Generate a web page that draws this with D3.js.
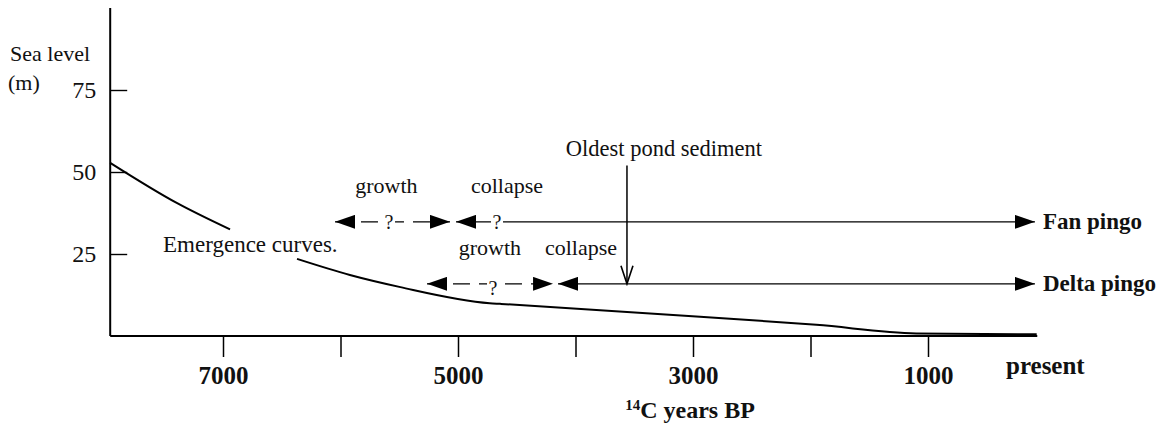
<!DOCTYPE html>
<html>
<head>
<meta charset="utf-8">
<script src="https://cdn.jsdelivr.net/npm/d3@7"></script>
<style>
  body { margin: 0; background: #fff; }
  svg text { font-family: "Liberation Serif", "Times New Roman", serif; fill: #111; }
</style>
</head>
<body>
<div id="chart"></div>
<script>
// emergence curve (years BP, metres); null = break where the label sits
var curveYears  = [7960, 7390, 6940, 6660, 6370, 5920, 5490, 4730, 4640, 2940, 1950, 1100, 75];
var curveLevels = [52.8, 40.5, 32.5, null, 23.5, 18.6, 14.9, 10.0, 9.8, 5.9, 3.4, 0.8, 0.5];

var yTicks = [25, 50, 75];
var xTicks = [7000, 6000, 5000, 4000, 3000, 2000, 1000];
var xLabelled = [7000, 5000, 3000, 1000];

// pingo rows
var rowNames     = ['Fan pingo', 'Delta pingo'];
var rowLevels    = [34.8, 15.9];
var growthStart  = [6047, 5264];
var growthEnd    = [5068, 4191];
var collapseFrom = [5017, 4149];
var collapseTo   = [90, 90];
var growthLabelAt   = [5609, 4728];
var collapseLabelAt = [4583, 3953];
var growthQAt    = [5587, 4702];
var collapseQAt  = [4668, null];

var pondYear = 3562, pondTop = 52;

var width = 1156, height = 426;

var svg = d3.select('#chart').append('svg')
    .attr('width', width)
    .attr('height', height);

var x = d3.scaleLinear().domain([8000, 0]).range([105.5, 1045.5]);
var y = d3.scaleLinear().domain([0, 100]).range([336, 8]);

var x0 = x(7960), x1 = x(70);

//markers
var defs = svg.append('defs');
defs.append('marker')
    .attr('id', 'head')
    .attr('viewBox', '-20 -7 20 14')
    .attr('refX', 0).attr('refY', 0)
    .attr('markerUnits', 'userSpaceOnUse')
    .attr('markerWidth', 20).attr('markerHeight', 14)
    .attr('orient', 'auto-start-reverse')
  .append('path')
    .attr('d', 'M-20,-7 L0,0 L-20,7 Z')
    .attr('fill', '#000');
defs.append('marker')
    .attr('id', 'vhead')
    .attr('viewBox', '-20 -8 22 16')
    .attr('refX', 0).attr('refY', 0)
    .attr('markerUnits', 'userSpaceOnUse')
    .attr('markerWidth', 22).attr('markerHeight', 16)
    .attr('orient', 'auto')
  .append('path')
    .attr('d', 'M-18,-6 L0,0 L-18,6')
    .attr('fill', 'none')
    .attr('stroke', '#000')
    .attr('stroke-width', 1.6);

//AXES
var yAxis = d3.axisLeft(y)
    .tickValues(yTicks)
    .tickSize(-17)
    .tickPadding(14)
    .tickSizeOuter(0);

var gy = svg.append('g')
    .attr('transform', 'translate(' + x0 + ',0)')
    .call(yAxis);
gy.select('.domain').remove();
gy.selectAll('line').attr('stroke', '#000').attr('stroke-width', 1.4);
gy.selectAll('text')
    .attr('font-size', 24)
    .attr('font-family', '"Liberation Serif", serif')
    .attr('fill', '#111');

svg.append('line')
    .attr('x1', x0).attr('x2', x0)
    .attr('y1', y(100)).attr('y2', y(0))
    .attr('stroke', '#000').attr('stroke-width', 2);

var xAxis = d3.axisBottom(x)
    .tickValues(xTicks)
    .tickSize(21)
    .tickPadding(9)
    .tickFormat(function (d) { return xLabelled.indexOf(d) >= 0 ? d : ''; });

var gx = svg.append('g')
    .attr('transform', 'translate(0,' + y(0) + ')')
    .call(xAxis);
gx.select('.domain').remove();
gx.selectAll('line').attr('stroke', '#000').attr('stroke-width', 1.5);
gx.selectAll('text')
    .attr('font-size', 25)
    .attr('font-weight', 'bold')
    .attr('font-family', '"Liberation Serif", serif')
    .attr('fill', '#111');

svg.append('line')
    .attr('x1', x0).attr('x2', x1)
    .attr('y1', y(0)).attr('y2', y(0))
    .attr('stroke', '#000').attr('stroke-width', 2);

svg.append('text')
    .attr('x', 1006).attr('y', y(0) + 38)
    .attr('font-size', 25).attr('font-weight', 'bold')
    .text('present');

var xt = svg.append('text')
    .attr('x', 690).attr('y', 418)
    .attr('text-anchor', 'middle')
    .attr('font-size', 24).attr('font-weight', 'bold');
xt.append('tspan').attr('font-size', 15).attr('dy', -8).text('14');
xt.append('tspan').attr('dy', 8).text('C years BP');

svg.append('text').attr('x', 10).attr('y', 61).attr('font-size', 22).text('Sea level');
svg.append('text').attr('x', 8).attr('y', 90).attr('font-size', 22).text('(m)');

//EMERGENCE CURVE
var curve = curveYears.map(function (d, i) { return { year: d, level: curveLevels[i] }; });

var line = d3.line()
    .defined(function (d) { return d.level !== null; })
    .x(function (d) { return x(d.year); })
    .y(function (d) { return y(d.level); })
    .curve(d3.curveMonotoneX);

svg.append('path')
    .datum(curve)
    .attr('d', line)
    .attr('fill', 'none')
    .attr('stroke', '#000')
    .attr('stroke-width', 2);

svg.append('text')
    .attr('x', x(7510)).attr('y', y(25) - 2)
    .attr('font-size', 23)
    .text('Emergence curves.');

//PINGO ROWS
rowNames.forEach(function (name, i) {
    var ry = y(rowLevels[i]);

    // growth, dashed, double-headed
    svg.append('line')
        .attr('x1', x(growthStart[i])).attr('x2', x(growthEnd[i]))
        .attr('y1', ry).attr('y2', ry)
        .attr('stroke', '#000').attr('stroke-width', 1.3)
        .attr('stroke-dasharray', '17,9')
        .attr('marker-start', 'url(#head)')
        .attr('marker-end', 'url(#head)');

    // collapse, solid, runs to the row label
    svg.append('line')
        .attr('x1', x(collapseFrom[i])).attr('x2', x(collapseTo[i]))
        .attr('y1', ry).attr('y2', ry)
        .attr('stroke', '#000').attr('stroke-width', 1.3)
        .attr('marker-start', 'url(#head)')
        .attr('marker-end', 'url(#head)');

    svg.append('text')
        .attr('x', x(growthLabelAt[i])).attr('y', ry - 29)
        .attr('text-anchor', 'middle').attr('font-size', 22)
        .text('growth');
    svg.append('text')
        .attr('x', x(collapseLabelAt[i])).attr('y', ry - 29)
        .attr('text-anchor', 'middle').attr('font-size', 22)
        .text('collapse');

    [growthQAt[i], collapseQAt[i]].forEach(function (q) {
        if (q === null) return;
        var qx = x(q), qy = ry + (i === 1 ? 11 : 7);
        svg.append('rect')
            .attr('x', qx - 6).attr('y', ry - 3)
            .attr('width', 12).attr('height', 6)
            .attr('fill', '#fff');
        svg.append('text')
            .attr('x', qx).attr('y', qy)
            .attr('text-anchor', 'middle').attr('font-size', 20)
            .text('?');
    });

    svg.append('text')
        .attr('x', x(collapseTo[i]) + 8).attr('y', ry + 7)
        .attr('font-size', 23).attr('font-weight', 'bold')
        .text(name);
});

//OLDEST POND SEDIMENT
svg.append('line')
    .attr('x1', x(pondYear)).attr('x2', x(pondYear))
    .attr('y1', y(pondTop)).attr('y2', y(rowLevels[1]))
    .attr('stroke', '#000').attr('stroke-width', 1.5)
    .attr('marker-end', 'url(#vhead)');

svg.append('text')
    .attr('x', x(pondYear) + 37).attr('y', y(pondTop) - 9)
    .attr('text-anchor', 'middle').attr('font-size', 22.5)
    .text('Oldest pond sediment');
</script>
</body>
</html>
